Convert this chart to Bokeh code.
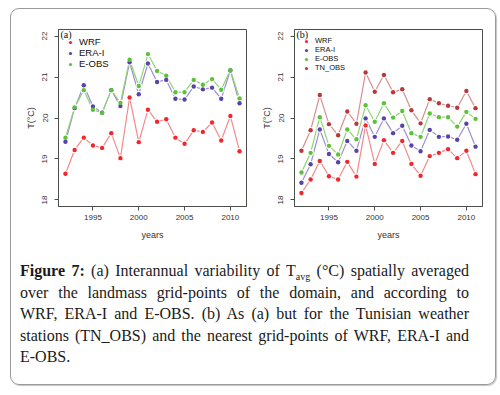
from bokeh.plotting import figure
from bokeh.models import Legend, LegendItem, FixedTicker, Range1d, Label, Div
from bokeh.layouts import row, column
from bokeh.embed import file_html
from bokeh.resources import INLINE

years = list(range(1992, 2012))

# Panel (a): landmass grid-point average
a_wrf = [18.64, 19.22, 19.52, 19.33, 19.27, 19.63, 19.02, 20.50, 19.41, 20.20,
         19.91, 19.97, 19.52, 19.37, 19.70, 19.66, 19.89, 19.45, 20.05, 19.19]
a_era = [19.42, 20.24, 20.80, 20.28, 20.13, 20.68, 20.29, 21.36, 20.58, 21.33,
         20.88, 20.93, 20.47, 20.45, 20.77, 20.70, 20.74, 20.47, 21.16, 20.36]
a_eobs = [19.52, 20.26, 20.68, 20.20, 20.13, 20.68, 20.37, 21.42, 20.78, 21.56,
          21.15, 21.03, 20.63, 20.63, 20.93, 20.81, 20.95, 20.69, 21.17, 20.48]

# Panel (b): Tunisian stations and nearest grid points
b_wrf = [18.17, 18.50, 18.95, 18.58, 18.50, 18.93, 18.57, 19.82, 18.88, 19.46,
         19.15, 19.44, 18.88, 18.59, 19.07, 19.15, 19.24, 19.02, 19.20, 18.63]
b_era = [18.42, 18.87, 19.72, 19.12, 18.92, 19.44, 19.20, 19.99, 19.54, 19.99,
         19.63, 19.81, 19.33, 19.19, 19.71, 19.54, 19.55, 19.47, 19.86, 19.30]
b_eobs = [18.67, 19.15, 20.02, 19.32, 19.11, 19.72, 19.48, 20.31, 19.91, 20.36,
          20.01, 20.17, 19.63, 19.54, 20.11, 20.02, 20.02, 19.79, 20.15, 19.98]
b_tn = [19.20, 19.70, 20.56, 19.85, 19.58, 20.16, 19.86, 21.11, 20.64, 21.05,
        20.63, 20.70, 20.19, 19.87, 20.46, 20.36, 20.30, 20.25, 20.66, 20.24]

x_ticks = [1995, 2000, 2005, 2010]
y_ticks = [18, 19, 20, 21, 22]
names_a = ["WRF", "ERA-I", "E-OBS"]
names_b = ["WRF", "ERA-I", "E-OBS", "TN_OBS"]

pt_colors = {"WRF": "#f0282d", "ERA-I": "#5a43a8", "E-OBS": "#5cc23a", "TN_OBS": "#b8393b"}
ln_colors = {"WRF": "#f4898c", "ERA-I": "#9d8fd0", "E-OBS": "#8fd474", "TN_OBS": "#d68e8e"}

SANS = "Liberation Sans"


def make_panel(series, names, tag, width, border_left, border_right, leg_y, leg_font, row_h):
    p = figure(width=width, height=240, output_backend="svg", toolbar_location=None,
               x_range=Range1d(1991.24, 2011.76), y_range=Range1d(17.84, 22.16),
               min_border_left=border_left, min_border_right=border_right,
               min_border_top=20, min_border_bottom=43)
    p.xgrid.visible = False
    p.ygrid.visible = False
    p.outline_line_color = "#4a4f4a"
    p.outline_line_width = 1
    p.background_fill_color = "white"
    p.border_fill_color = None

    items = []
    for vals, name in zip(series, names):
        p.line(years, vals, line_color=ln_colors[name], line_width=1.2)
    for vals in series:
        p.scatter(years, vals, size=6.5, fill_color="white", line_color=None)
    for vals, name in zip(series, names):
        r = p.scatter(years, vals, size=4.4, fill_color=pt_colors[name], line_color=None)
        items.append(LegendItem(label=name, renderers=[r]))

    for ax in (p.xaxis[0], p.yaxis[0]):
        ax.axis_line_color = "#4a4f4a"
        ax.major_tick_line_color = "#4a4f4a"
        ax.minor_tick_line_color = None
        ax.major_tick_in = 0
        ax.major_tick_out = 4
        ax.major_label_text_font = SANS
        ax.major_label_text_font_size = "8px"
        ax.major_label_text_color = "#333333"
        ax.axis_label_text_font = SANS
        ax.axis_label_text_font_size = "9px"
        ax.axis_label_text_font_style = "normal"
        ax.axis_label_text_color = "#333333"
    p.xaxis.ticker = FixedTicker(ticks=x_ticks)
    p.yaxis.ticker = FixedTicker(ticks=y_ticks)
    p.yaxis.major_label_orientation = "vertical"
    p.xaxis.axis_label = "years"
    p.yaxis.axis_label = "T(°C)"
    p.xaxis.major_label_standoff = 4
    p.yaxis.major_label_standoff = 7
    p.xaxis.axis_label_standoff = 7
    p.yaxis.axis_label_standoff = 4

    legend = Legend(items=items, location=(8, leg_y),
                    glyph_width=8, glyph_height=row_h, label_height=row_h,
                    label_width=10, spacing=0, padding=0, margin=0,
                    label_standoff=5, label_text_font=SANS,
                    label_text_font_size=leg_font, label_text_color="#111111",
                    border_line_color=None, background_fill_alpha=0)
    p.add_layout(legend)
    p.add_layout(Label(x=2, y=172, x_units="screen", y_units="screen", text=tag,
                       text_font="Liberation Serif", text_font_size="10px",
                       text_color="#111111", text_baseline="middle"))
    return p


p1 = make_panel([a_wrf, a_era, a_eobs], names_a, "(a)", 242, 47, 7, 137, "9.5px", 10)
p2 = make_panel([b_wrf, b_era, b_eobs, b_tn], names_b, "(b)", 242, 41, 13, 134, "7.5px", 8)

line_style = "white-space:nowrap;text-align:justify;text-align-last:justify;"
caption_lines = [
    "<b>Figure 7:</b> (a) Interannual variability of T<sub style='font-size:10px;line-height:0'>avg</sub> (°C) spatially averaged",
    "over the landmass grid-points of the domain, and according to",
    "WRF, ERA-I and E-OBS. (b) As (a) but for the Tunisian weather",
    "stations (TN_OBS) and the nearest grid-points of WRF, ERA-I and",
]
html = ("<div style=\"padding:11px 0 0 9px;width:458px;font-family:'Liberation Serif';"
        "font-size:16px;line-height:21.6px;color:#1a1a1a;\">")
for t in caption_lines:
    html += "<div style='%s'>%s</div>" % (line_style, t)
html += "<div>E-OBS.</div></div>"

cap = Div(text=html, width=484, height=135, margin=0)

layout = column(row(p1, p2), cap, margin=(8, 0, 0, 10),
                styles={"border": "1px solid #9a9a9a", "border-radius": "9px",
                        "box-shadow": "1px 1px 1px #c4c4c4"})

open("out.html", "w").write(file_html(layout, INLINE))
